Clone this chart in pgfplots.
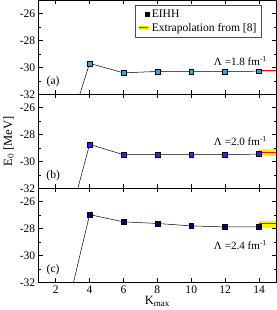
\documentclass[border=0pt]{standalone}
\usepackage{pgfplots}
\pgfplotsset{compat=1.18}
\usepackage{fontspec}
\setmainfont{Liberation Serif}
\definecolor{ca}{HTML}{33A8DD}
\definecolor{cb}{HTML}{3322EE}
\definecolor{cc}{HTML}{000070}
\begin{document}
\begin{tikzpicture}
\pgfplotsset{
  panel/.style={
    width=236pt, height=93.5pt, scale only axis,
    xmin=1, xmax=15, ymin=-32, ymax=-25,
    xtick={2,4,...,14}, ytick={-32,-30,-28,-26},
    minor ytick={-31,-29,-27,-25},
    tick align=inside, major tick length=4pt, minor tick length=2pt,
    tick style={black, line width=0.5pt},
    axis line style={line width=0.6pt},
    /pgf/number format/assume math mode=true,
    tick label style={font=\rmfamily\fontsize{11.5}{13}\selectfont},
    yticklabel style={xshift=0pt},
    clip=true,
  },
  dat/.style={black, line width=0.5pt, mark=square*, mark size=2.4pt, mark options={draw=black, line width=0.5pt, fill=#1}},
}
% panel (a)
\begin{axis}[panel, name=a, xticklabels={},
  legend style={at={(0.94,0.955)}, anchor=north east, font=\rmfamily\fontsize{11.5}{13}\selectfont, draw=black!70, line width=0.6pt, inner sep=3pt, row sep=0pt, legend cell align=left},
]
\addplot[fill=yellow, draw=none, forget plot] coordinates {(14,-30.17) (15,-30.17) (15,-30.33) (14,-30.33)} -- cycle;
\addplot[red, line width=0.8pt, forget plot] coordinates {(14,-30.25) (15,-30.25)};
\addplot[dat=ca, forget plot] coordinates {(2,-37.7) (4,-29.7) (6,-30.4) (8,-30.3) (10,-30.3) (12,-30.3) (14,-30.28)};
\addlegendimage{only marks, mark=square*, mark size=2.2pt, black}
\addlegendentry{EIHH}
\addlegendimage{legend image code/.code={
  \fill[yellow] (0pt,-1.6pt) rectangle (9pt,1.6pt);
  \draw[red, line width=0.7pt] (0pt,0pt) -- (9pt,0pt);}}
\addlegendentry{Extrapolation from [8]}
\node[font=\rmfamily\fontsize{11.5}{13}\selectfont] at (axis cs:1.85,-31.1) {(a)};
\node[font=\rmfamily\fontsize{11}{13}\selectfont] at (axis cs:12.9,-29.5) {Λ =1.8 fm\textsuperscript{-1}};
\end{axis}
% panel (b)
\begin{axis}[panel, name=b, at={(a.south west)}, anchor=north west, xticklabels={},
  ylabel={E$_0$ [MeV]}, ylabel style={font=\rmfamily\fontsize{12.5}{14}\selectfont, yshift=-1pt},
]
\addplot[fill=yellow, draw=none] coordinates {(14,-29.1) (15,-29.1) (15,-29.57) (14,-29.57)} -- cycle;
\addplot[red, line width=0.8pt] coordinates {(14,-29.35) (15,-29.35)};
\addplot[dat=cb] coordinates {(2,-38.2) (4,-28.73) (6,-29.5) (8,-29.5) (10,-29.5) (12,-29.5) (14,-29.45)};
\node[font=\rmfamily\fontsize{11.5}{13}\selectfont] at (axis cs:1.85,-31.1) {(b)};
\node[font=\rmfamily\fontsize{11}{13}\selectfont] at (axis cs:12.9,-28.5) {Λ =2.0 fm\textsuperscript{-1}};
\end{axis}
% panel (c)
\begin{axis}[panel, name=c, at={(b.south west)}, anchor=north west,
  xlabel={K$_{\mbox{\rmfamily\fontsize{9}{10}\selectfont max}}$}, xlabel style={font=\rmfamily\fontsize{12.5}{14}\selectfont, yshift=4pt},
]
\addplot[fill=yellow, draw=none] coordinates {(14,-27.42) (15,-27.42) (15,-27.95) (14,-27.95)} -- cycle;
\addplot[red, line width=0.8pt] coordinates {(14,-27.62) (15,-27.62)};
\addplot[dat=cc] coordinates {(2,-37.6) (4,-26.96) (6,-27.5) (8,-27.62) (10,-27.8) (12,-27.88) (14,-27.88)};
\node[font=\rmfamily\fontsize{11.5}{13}\selectfont] at (axis cs:1.85,-31.1) {(c)};
\node[font=\rmfamily\fontsize{11}{13}\selectfont] at (axis cs:12.9,-29.2) {Λ =2.4 fm\textsuperscript{-1}};
\end{axis}
\end{tikzpicture}
\end{document}
